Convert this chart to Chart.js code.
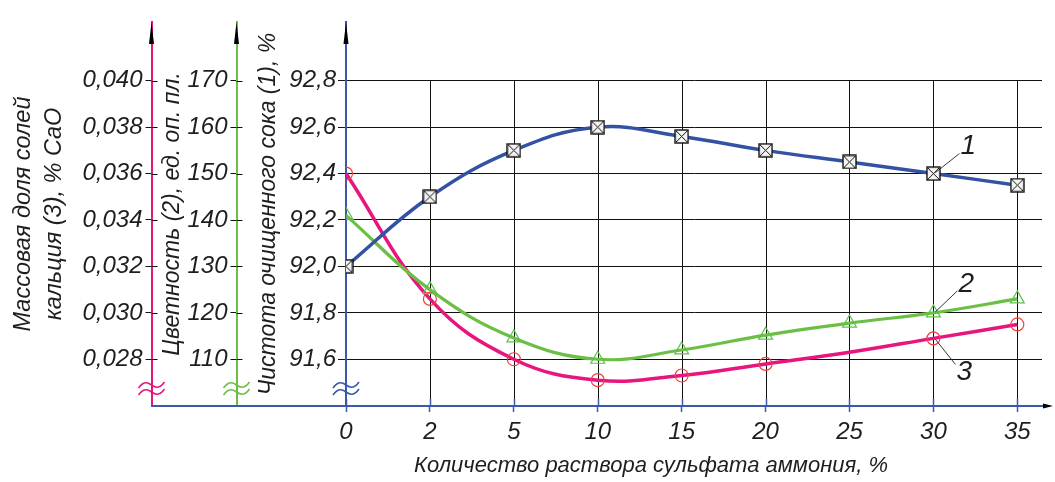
<!DOCTYPE html>
<html><head><meta charset="utf-8">
<script src="https://cdn.jsdelivr.net/npm/chart.js@4/dist/chart.umd.min.js"></script>
<style>html,body{margin:0;padding:0;background:#fff;overflow:hidden}canvas{display:block}</style>
</head><body>
<canvas id="c" width="1055" height="482"></canvas>
<script>
// ---- data ----
const categories = ['0','2','5','10','15','20','25','30','35'];
const purity  = [92.0, 92.3, 92.5, 92.6, 92.56, 92.5, 92.45, 92.4, 92.35];
const colour  = [141, 125, 114.6, 110, 112, 115.2, 117.8, 120, 123];
const calcium = [0.036, 0.0306, 0.028, 0.0271, 0.0273, 0.0278, 0.0283, 0.0289, 0.0295];
const calciumMarkerShown = [1,1,1,1,1,1,0,1,1];
const purityTicks = [91.6, 91.8, 92.0, 92.2, 92.4, 92.6, 92.8];
const purityTickLabels = ['91,6','91,8','92,0','92,2','92,4','92,6','92,8'];
const colourTicks = [110, 120, 130, 140, 150, 160, 170];
const colourTickLabels = ['110','120','130','140','150','160','170'];
const calciumTicks = [0.028, 0.030, 0.032, 0.034, 0.036, 0.038, 0.040];
const calciumTickLabels = ['0,028','0,030','0,032','0,034','0,036','0,038','0,040'];
const seriesNumbers = ['1','2','3'];
const xTitle = 'Количество раствора сульфата аммония, %';
const purityTitle = 'Чистота очищенного сока (1), %';
const colourTitle = 'Цветность (2), ед. оп. пл.';
const calciumTitle = ['Массовая доля солей', 'кальция (3), % CaO'];

// ---- style ----
const FONT = "'Liberation Sans', Arial, sans-serif";
const BLUE = '#3a58ac', BLUE_LINE = '#3352a3';
const GREEN = '#6cbf45', GREEN_MK = '#5cc24a';
const PINK = '#e8157f', PINK_MK = '#f0413c';
const TXT = '#1e1e1e';

function boxCross(size){
  const c = document.createElement('canvas'); c.width = c.height = size;
  const g = c.getContext('2d');
  g.fillStyle = '#f4f4f4'; g.fillRect(1,1,size-2,size-2);
  g.strokeStyle = '#111'; g.lineWidth = 1.4; g.strokeRect(1,1,size-2,size-2);
  g.lineWidth = 1; g.beginPath();
  g.moveTo(2,2); g.lineTo(size-2,size-2); g.moveTo(size-2,2); g.lineTo(2,size-2); g.stroke();
  return c;
}
const squareMark = boxCross(15);

function fixTicks(values){ return s => { s.ticks = values.map(v => ({value: v})); }; }
function labelFrom(values, labels){ return v => { const i = values.findIndex(t => Math.abs(t - v) < 1e-9); return i >= 0 ? labels[i] : ''; }; }
const tickFont = {family: FONT, size: 24, style: 'italic'};
const titleFont = {family: FONT, size: 23, style: 'italic', lineHeight: 1.18};
const titleFont2 = {family: FONT, size: 23.5, style: 'italic', lineHeight: 1.36};

const decor = {
  id: 'decor',
  beforeDatasetsDraw(chart){
    const {ctx, chartArea: a, scales} = chart;
    const top = scales.yP.getPixelForValue(92.8);
    ctx.save();
    ctx.strokeStyle = '#111'; ctx.lineWidth = 1;
    for (let i = 1; i < categories.length; i++){
      const px = Math.round(scales.x.getPixelForValue(i)) + 0.5;
      ctx.beginPath(); ctx.moveTo(px, top); ctx.lineTo(px, a.bottom - 1); ctx.stroke();
    }
    ctx.restore();
  },
  afterDraw(chart){
    const {ctx, chartArea: a, scales} = chart;
    const xs = scales.x;
    const axisX = {yC: scales.yC.right, yG: scales.yG.right, yP: scales.yP.right};
    const cols = {yC: PINK, yG: GREEN, yP: BLUE};
    ctx.save();
    // x axis extension
    ctx.strokeStyle = BLUE; ctx.lineWidth = 2;
    ctx.beginPath(); ctx.moveTo(axisX.yC, a.bottom); ctx.lineTo(a.left, a.bottom);
    ctx.moveTo(a.right, a.bottom); ctx.lineTo(a.right + 5, a.bottom); ctx.stroke();
    ctx.fillStyle = '#000';
    ctx.beginPath(); ctx.moveTo(a.right + 11, a.bottom); ctx.lineTo(a.right + 1, a.bottom - 2.5);
    ctx.lineTo(a.right + 1, a.bottom + 2.5); ctx.closePath(); ctx.fill();
    // x tick marks above axis
    ctx.strokeStyle = BLUE; ctx.lineWidth = 1.5;
    for (let i = 0; i < categories.length; i++){
      const px = Math.round(xs.getPixelForValue(i)) + 0.5;
      ctx.beginPath(); ctx.moveTo(px, a.bottom - 7); ctx.lineTo(px, a.bottom); ctx.stroke();
    }
    // y ticks crossing pink/green axes
    for (const id of ['yC','yG']){
      const s = scales[id];
      ctx.strokeStyle = '#111'; ctx.lineWidth = 1;
      s.ticks.forEach(t => {
        const py = Math.round(s.getPixelForValue(t.value)) + 0.5;
        ctx.beginPath(); ctx.moveTo(s.right, py); ctx.lineTo(s.right + 6, py); ctx.stroke();
      });
    }
    // arrows and breaks on vertical axes
    for (const id of ['yC','yG','yP']){
      const x = axisX[id];
      ctx.fillStyle = '#000';
      ctx.beginPath(); ctx.moveTo(x, a.top); ctx.lineTo(x + 2.5, a.top + 22); ctx.lineTo(x - 2.5, a.top + 22);
      ctx.closePath(); ctx.fill();
      ctx.strokeStyle = cols[id]; ctx.lineWidth = 1.6;
      for (const dy of [-21, -14]){
        const y = a.bottom + dy;
        ctx.beginPath();
        ctx.moveTo(x - 13, y + 3);
        ctx.bezierCurveTo(x - 8, y - 4, x - 4, y - 3, x, y);
        ctx.bezierCurveTo(x + 4, y + 3, x + 8, y + 4, x + 13, y - 3);
        ctx.stroke();
      }
    }
    // x title
    ctx.fillStyle = TXT; ctx.font = 'italic 22px ' + FONT;
    ctx.textAlign = 'center'; ctx.textBaseline = 'middle';
    ctx.fillText(xTitle, 651, a.bottom + 60);
    // series numbers with leader lines (at the 30 % point)
    const leaders = [[0, 26, -20], [1, 24, -22], [2, 22, 26]];
    ctx.strokeStyle = '#222'; ctx.lineWidth = 0.9; ctx.font = 'italic 28px ' + FONT;
    leaders.forEach(([ds, dx, dy]) => {
      const p = chart.getDatasetMeta(ds).data[7];
      ctx.beginPath(); ctx.moveTo(p.x + 2, p.y + Math.sign(dy) * 1); ctx.lineTo(p.x + dx, p.y + dy); ctx.stroke();
      ctx.textAlign = 'left';
      ctx.fillText(seriesNumbers[ds], p.x + dx + 1, p.y + dy + (dy < 0 ? -7 : 8));
    });
    ctx.restore();
  }
};

new Chart(document.getElementById('c'), {
  type: 'line',
  data: {
    datasets: [
      {label: '1', data: purity.map((v,i)=>({x:i, y:v})), yAxisID: 'yP', borderColor: BLUE_LINE, borderWidth: 3.5,
       tension: 0.4, pointStyle: squareMark, pointRadius: 7, fill: false},
      {label: '2', data: colour.map((v,i)=>({x:i, y:v})), yAxisID: 'yG', borderColor: GREEN, borderWidth: 3.2,
       tension: 0.4, pointStyle: 'triangle', pointRadius: 8, pointBorderColor: GREEN_MK, pointBorderWidth: 1.2,
       pointBackgroundColor: 'rgba(0,0,0,0)', fill: false},
      {label: '3', data: calcium.map((v,i)=>({x:i, y:v})), yAxisID: 'yC', borderColor: PINK, borderWidth: 3.5,
       tension: 0.4, pointStyle: 'circle', pointRadius: calciumMarkerShown.map(m => m ? 6.5 : 0),
       pointBorderColor: PINK_MK, pointBorderWidth: 1.2, pointBackgroundColor: 'rgba(0,0,0,0)', fill: false}
    ]
  },
  options: {
    responsive: false, animation: false, devicePixelRatio: 1,
    layout: {padding: {top: 22, right: 13, left: 0, bottom: 0}},
    plugins: {legend: {display: false}, tooltip: {enabled: false}},
    scales: {
      x: {type: 'linear', position: 'bottom', min: 0, max: 8.294,
        afterBuildTicks: fixTicks(categories.map((c,i)=>i)),
        afterFit: s => { s.height = 76; },
        ticks: {callback: v => categories[v], font: tickFont, color: TXT, padding: 6, maxRotation: 0, autoSkip: false},
        grid: {drawOnChartArea: false, drawTicks: true, tickLength: 6, tickColor: BLUE, tickWidth: 1.5},
        border: {color: BLUE, width: 2}},
      yP: {type: 'linear', position: 'left', min: 91.3986, max: 93.0531,
        afterBuildTicks: fixTicks(purityTicks), afterFit: s => { s.width = 109.5; },
        ticks: {callback: labelFrom(purityTicks, purityTickLabels), font: tickFont, color: TXT, padding: 2},
        grid: {drawOnChartArea: true, color: '#111', lineWidth: 1, tickLength: 8, tickColor: '#111'},
        border: {color: BLUE, width: 2},
        title: {display: true, text: purityTitle, font: titleFont, color: TXT, padding: {top: 19, bottom: 0}}},
      yG: {type: 'linear', position: 'left', min: 99.93, max: 182.656,
        afterBuildTicks: fixTicks(colourTicks), afterFit: s => { s.width = 85; },
        ticks: {callback: labelFrom(colourTicks, colourTickLabels), font: tickFont, color: TXT, padding: 3},
        grid: {drawOnChartArea: false, tickLength: 6, tickColor: '#111'},
        border: {color: GREEN, width: 2},
        title: {display: true, text: colourTitle, font: titleFont, color: TXT, padding: {top: 8, bottom: 0}}},
      yC: {type: 'linear', position: 'left', min: 0.025986, max: 0.042531,
        afterBuildTicks: fixTicks(calciumTicks), afterFit: s => { s.width = 151.5; },
        ticks: {callback: labelFrom(calciumTicks, calciumTickLabels), font: tickFont, color: TXT, padding: 3},
        grid: {drawOnChartArea: false, tickLength: 6, tickColor: '#111'},
        border: {color: PINK, width: 2},
        title: {display: true, text: calciumTitle, font: titleFont2, color: TXT, padding: {top: 7, bottom: 0}}}
    }
  },
  plugins: [decor]
});
</script>
</body></html>
